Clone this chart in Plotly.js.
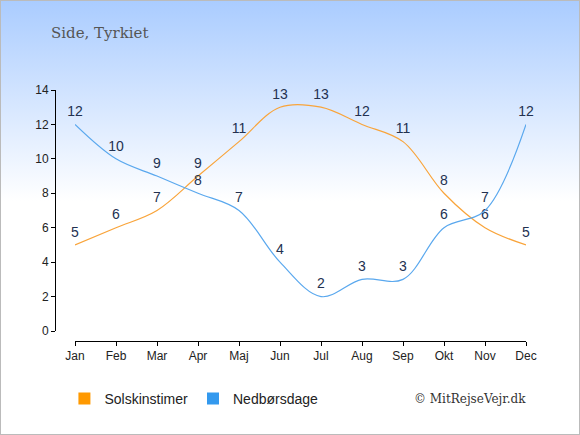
<!DOCTYPE html>
<html><head><meta charset="utf-8">
<script src="https://cdn.plot.ly/plotly-3.0.1.min.js"></script>
<style>
html,body{margin:0;padding:0;}
#wrap{width:578px;height:433px;border:1px solid #bbbbbb;background:linear-gradient(to bottom,#aaccff 0px,#ffffff 200px,#ffffff 433px);}
#chart{width:578px;height:433px;}
</style></head><body>
<div id="wrap"><div id="chart"></div></div>
<script>
const months = ["Jan","Feb","Mar","Apr","Maj","Jun","Jul","Aug","Sep","Okt","Nov","Dec"];
const sunHours = [5,6,7,9,11,13,13,12,11,8,6,5];
const rainDays = [12,10,9,8,7,4,2,3,3,6,7,12];
const sunName = "Solskinstimer";
const rainName = "Nedbørsdage";
const sunColor = "#f9a43a";
const rainColor = "#5aa8ee";
const idx = months.map((m,i)=>i);

function lineTrace(y, color){
  return {x: idx, y: y, mode:"lines+markers+text", text: y.map(String), textposition:"top center",
   textfont:{family:"Liberation Sans, Arial", size:14, color:"#233150"},
   marker:{size:6, opacity:0, color:color},
   line:{color:color, width:1.2, shape:"spline", smoothing:1}, showlegend:false, hoverinfo:"none", cliponaxis:false};
}

const traces = [
  lineTrace(sunHours, sunColor),
  lineTrace(rainDays, rainColor),
  {x:[null], y:[null], mode:"markers", name:sunName, marker:{symbol:"square", size:12, color:"#ff9900"}},
  {x:[null], y:[null], mode:"markers", name:rainName, marker:{symbol:"square", size:12, color:"#3399ee"}}
];

const layout = {
  width:578, height:433,
  margin:{l:54, r:53, t:89, b:93, pad:0},
  paper_bgcolor:"rgba(0,0,0,0)", plot_bgcolor:"rgba(0,0,0,0)",
  title:{text:"Side, Tyrkiet", x:50/578, xanchor:"left", y:1-32/433, yanchor:"middle",
         font:{family:"DejaVu Serif", size:15, color:"#555555"}},
  xaxis:{domain:[20/471,1], range:[0,11], anchor:"free", position:0,
         tickvals: idx, ticktext: months, showline:true, linecolor:"#000", linewidth:1,
         ticks:"outside", ticklen:4, tickcolor:"#000", showgrid:false, zeroline:false,
         tickfont:{family:"Liberation Sans, Arial", size:12, color:"#222"}, fixedrange:true},
  yaxis:{domain:[10/251,1], range:[0,14], anchor:"free", position:0,
         tickvals:[0,2,4,6,8,10,12,14], showline:true, linecolor:"#000", linewidth:1,
         ticks:"outside", ticklen:4, tickcolor:"#000", showgrid:false, zeroline:false,
         tickfont:{family:"Liberation Sans, Arial", size:12, color:"#222"}, fixedrange:true},
  legend:{orientation:"h", x:0.02, xanchor:"left", y:-0.231, yanchor:"middle",
          font:{family:"Liberation Sans, Arial", size:14, color:"#222"}, bgcolor:"rgba(0,0,0,0)"},
  annotations:[{text:"© MitRejseVejr.dk", xref:"paper", yref:"paper", x:1.005, xanchor:"right",
                y:-0.231, yanchor:"middle", showarrow:false,
                font:{family:"DejaVu Serif", size:12, color:"#333"}}]
};
Plotly.newPlot("chart", traces, layout, {displayModeBar:false, staticPlot:true});
</script></body></html>
